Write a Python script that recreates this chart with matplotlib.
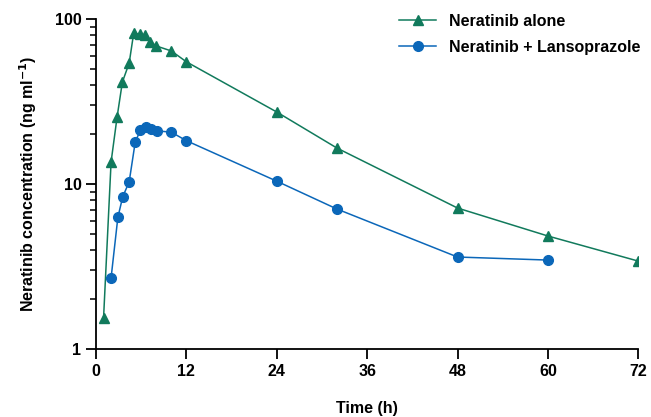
import matplotlib.pyplot as plt
from matplotlib.ticker import LogLocator, NullFormatter, FixedLocator, FixedFormatter

plt.rcParams['font.family'] = ['Liberation Sans', 'DejaVu Sans']
plt.rcParams['font.weight'] = 'bold'

# Neratinib alone
t_alone = [1, 2, 2.8, 3.5, 4.4, 5, 5.8, 6.5, 7.2, 8, 10, 12, 24, 32, 48, 60, 72]
c_alone = [1.54, 13.6, 25.5, 41.5, 54, 82, 81, 80, 73, 68.6, 64, 55, 27.3, 16.5, 7.15, 4.84, 3.41]

# Neratinib + Lansoprazole
t_lanso = [2, 2.9, 3.55, 4.4, 5.2, 5.9, 6.6, 7.3, 8.1, 10, 12, 24, 32, 48, 60]
c_lanso = [2.70, 6.28, 8.38, 10.3, 17.9, 21.3, 22.1, 21.6, 21.0, 20.6, 18.3, 10.4, 7.05, 3.61, 3.46]

x_ticks = [0, 12, 24, 36, 48, 60, 72]

green = '#117a5c'
blue = '#0b67b9'

fig = plt.figure(figsize=(6.51, 4.17), dpi=100)
ax = fig.add_axes([0.1475, 0.163, 0.833, 0.7915])

ax.plot(t_alone, c_alone, color=green, marker='^', markersize=7.5, linewidth=1.1,
        label='Neratinib alone')
ax.plot(t_lanso, c_lanso, color=blue, marker='o', markersize=7, linewidth=1.1,
        label='Neratinib + Lansoprazole')

ax.set_yscale('log')
ax.set_ylim(1, 100)
ax.set_xlim(0, 72)
ax.set_xticks(x_ticks)
ax.yaxis.set_major_locator(FixedLocator([1, 10, 100]))
ax.yaxis.set_major_formatter(FixedFormatter(['1', '10', '100']))
ax.yaxis.set_minor_locator(LogLocator(base=10, subs=range(2, 10)))
ax.yaxis.set_minor_formatter(NullFormatter())

for s in ['top', 'right']:
    ax.spines[s].set_visible(False)
for s in ['left', 'bottom']:
    ax.spines[s].set_linewidth(1.3)

ax.tick_params(axis='both', which='major', direction='out', length=7, width=1.3,
               labelsize=11.5)
ax.tick_params(axis='y', which='minor', direction='out', length=4, width=1.1)

ax.set_xlabel('Time (h)', fontsize=11.5, fontweight='bold', labelpad=16)
ax.set_ylabel('Neratinib concentration (ng ml$^{\\mathbf{-1}}$)', fontsize=11.5,
              fontweight='bold', labelpad=11)

ax.legend(loc='upper right', bbox_to_anchor=(1.03, 1.06), frameon=False, fontsize=11.5,
          handlelength=2.3, labelspacing=0.72)

fig.savefig('out.png', dpi=100)
